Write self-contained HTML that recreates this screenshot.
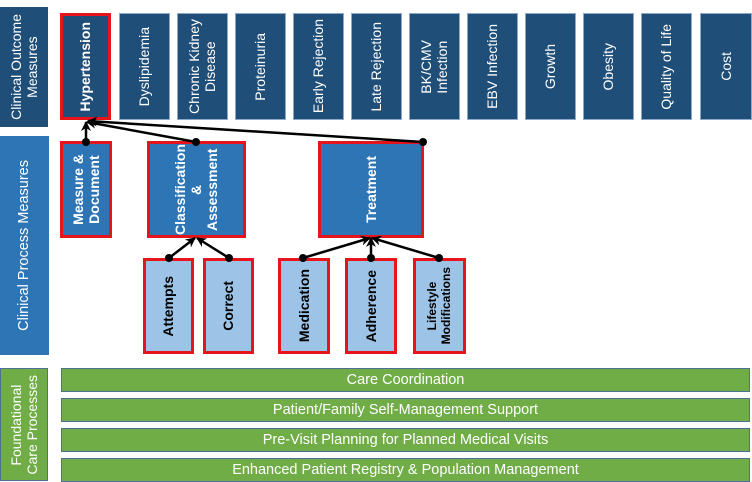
<!DOCTYPE html>
<html><head><meta charset="utf-8"><style>
body{margin:0;width:752px;height:482px;background:#fff;position:relative;overflow:hidden;font-family:"Liberation Sans",sans-serif}
.b{position:absolute;box-sizing:border-box;display:flex;align-items:center;justify-content:center;color:#fff;text-align:center}
.v{writing-mode:vertical-rl;transform:rotate(180deg);line-height:1.15}
.o{background:#1f4e79;border:1px solid #8ea9c8;font-size:14px}
.r{border:3px solid #e8141c}
.p{background:#2e75b6;font-weight:bold;font-size:14px}
.l{background:#9dc3e6;color:#000;font-weight:bold;font-size:14px}
.g{background:#70ad47;border:1px solid #4f6f9a;font-size:14.5px;left:61px;width:689px;height:24px}
</style></head><body>
<div class="b" style="left:0;top:7px;width:48px;height:120px;background:#1f4e79;font-size:14px"><span class="v">Clinical Outcome<br>Measures</span></div>
<div class="b" style="left:0;top:136px;width:49px;height:219px;background:#2e75b6;font-size:14.5px"><span class="v">Clinical Process Measures</span></div>
<div class="b" style="left:0;top:368px;width:48px;height:113px;background:#70ad47;border:1px solid #4f6f9a;font-size:14px"><span class="v">Foundational<br>Care Processes</span></div>

<div class="b o r" style="left:60px;top:13px;width:51px;height:107px;font-weight:bold"><span class="v">Hypertension</span></div>
<div class="b o" style="left:119px;top:13px;width:51px;height:107px"><span class="v">Dyslipidemia</span></div>
<div class="b o" style="left:177px;top:13px;width:51px;height:107px"><span class="v">Chronic Kidney<br>Disease</span></div>
<div class="b o" style="left:235px;top:13px;width:51px;height:107px"><span class="v">Proteinuria</span></div>
<div class="b o" style="left:293px;top:13px;width:51px;height:107px"><span class="v">Early Rejection</span></div>
<div class="b o" style="left:351px;top:13px;width:51px;height:107px"><span class="v">Late Rejection</span></div>
<div class="b o" style="left:409px;top:13px;width:51px;height:107px"><span class="v">BK/CMV<br>Infection</span></div>
<div class="b o" style="left:467px;top:13px;width:51px;height:107px"><span class="v">EBV Infection</span></div>
<div class="b o" style="left:525px;top:13px;width:51px;height:107px"><span class="v">Growth</span></div>
<div class="b o" style="left:583px;top:13px;width:51px;height:107px"><span class="v">Obesity</span></div>
<div class="b o" style="left:641px;top:13px;width:51px;height:107px"><span class="v">Quality of Life</span></div>
<div class="b o" style="left:700px;top:13px;width:52px;height:107px"><span class="v">Cost</span></div>

<div class="b p r" style="left:60px;top:141px;width:52px;height:97px"><span class="v">Measure &amp;<br>Document</span></div>
<div class="b p r" style="left:147px;top:141px;width:99px;height:97px"><span class="v">Classification<br>&amp;<br>Assessment</span></div>
<div class="b p r" style="left:318px;top:141px;width:106px;height:97px"><span class="v">Treatment</span></div>

<div class="b l r" style="left:143px;top:258px;width:51px;height:96px"><span class="v">Attempts</span></div>
<div class="b l r" style="left:203px;top:258px;width:51px;height:96px"><span class="v">Correct</span></div>
<div class="b l r" style="left:278px;top:258px;width:52px;height:96px"><span class="v">Medication</span></div>
<div class="b l r" style="left:345px;top:258px;width:52px;height:96px"><span class="v">Adherence</span></div>
<div class="b l r" style="left:413px;top:258px;width:53px;height:96px"><span class="v" style="font-size:12px">Lifestyle<br>Modifications</span></div>

<div class="b g" style="top:368px">Care Coordination</div>
<div class="b g" style="top:398px">Patient/Family Self-Management Support</div>
<div class="b g" style="top:428px">Pre-Visit Planning for Planned Medical Visits</div>
<div class="b g" style="top:458px">Enhanced Patient Registry &amp; Population Management</div>

<svg width="752" height="482" style="position:absolute;left:0;top:0">
<defs><marker id="a" markerWidth="10" markerHeight="10" refX="9" refY="5" orient="auto" markerUnits="userSpaceOnUse"><path d="M0,0 L10,5 L0,10 L3,5z" fill="#000"/></marker></defs>
<g stroke="#000" stroke-width="2.5" fill="none" marker-end="url(#a)">
<line x1="86" y1="142" x2="86" y2="122"/>
<line x1="196" y1="142" x2="87" y2="122"/>
<line x1="423" y1="142" x2="88" y2="121"/>
<line x1="169" y1="258" x2="195" y2="238"/>
<line x1="229" y1="258" x2="197" y2="238"/>
<line x1="303" y1="258" x2="370" y2="238"/>
<line x1="371" y1="258" x2="371" y2="238"/>
<line x1="439" y1="258" x2="372" y2="238"/>
</g>
<g fill="#000"><circle cx="86" cy="142" r="4"/><circle cx="196" cy="142" r="4"/><circle cx="423" cy="142" r="4"/>
<circle cx="169" cy="258" r="4"/><circle cx="229" cy="258" r="4"/><circle cx="303" cy="258" r="4"/><circle cx="371" cy="258" r="4"/><circle cx="439" cy="258" r="4"/></g>
</svg>
</body></html>
